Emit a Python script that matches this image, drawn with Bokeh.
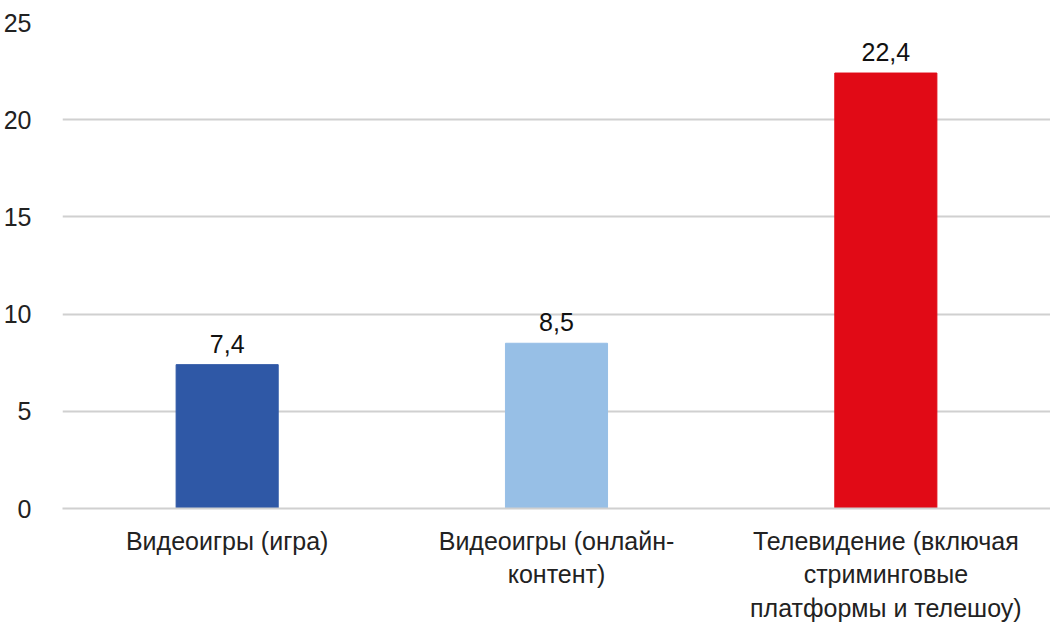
from bokeh.plotting import figure
from bokeh.models import ColumnDataSource, FixedTicker, Range1d
from bokeh.embed import file_html
from bokeh.resources import INLINE
from bokeh.core.properties import value

categories = ["Видеоигры (игра)", "Видеоигры (онлайн-\nконтент)", "Телевидение (включая\nстриминговые\nплатформы и телешоу)"]
values = [7.4, 8.5, 22.4]
labels = ["7,4", "8,5", "22,4"]
colors = ["#2f58a6", "#97bfe6", "#e10a16"]
y_ticks = [0, 5, 10, 15, 20, 25]

xs = [1, 2, 3]
src = ColumnDataSource(dict(x=xs, top=values, color=colors, label=labels))

p = figure(width=1050, height=624, output_backend="svg", toolbar_location=None,
           x_range=Range1d(0.5, 3.5), y_range=Range1d(0, 25),
           min_border_left=57, min_border_right=0, min_border_top=22, min_border_bottom=106)
p.vbar(x="x", top="top", width=0.31, color="color", source=src)
p.text(x="x", y="top", text="label", source=src, text_align="center", text_baseline="bottom",
       y_offset=-12, text_font=value("Liberation Sans"), text_font_size="25px", text_color="#111111")

p.outline_line_color = None
p.xgrid.grid_line_color = None
p.ygrid.grid_line_color = "#d0d0d0"
p.ygrid.grid_line_width = 2
p.yaxis.ticker = FixedTicker(ticks=y_ticks)
p.xaxis.ticker = FixedTicker(ticks=xs)
p.xaxis.major_label_overrides = {x: c for x, c in zip(xs, categories)}
for ax in (p.xaxis, p.yaxis):
    ax.axis_line_color = None
    ax.major_tick_line_color = None
    ax.minor_tick_line_color = None
    ax.major_label_text_font = "Liberation Sans"
    ax.major_label_text_font_size = "25px"
    ax.major_label_text_color = "#222222"
p.xaxis.axis_line_color = "#d0d0d0"
p.xaxis.axis_line_width = 2
p.xaxis.major_label_standoff = 12
p.yaxis.major_label_standoff = 25

open("out.html", "w").write(file_html(p, INLINE))
